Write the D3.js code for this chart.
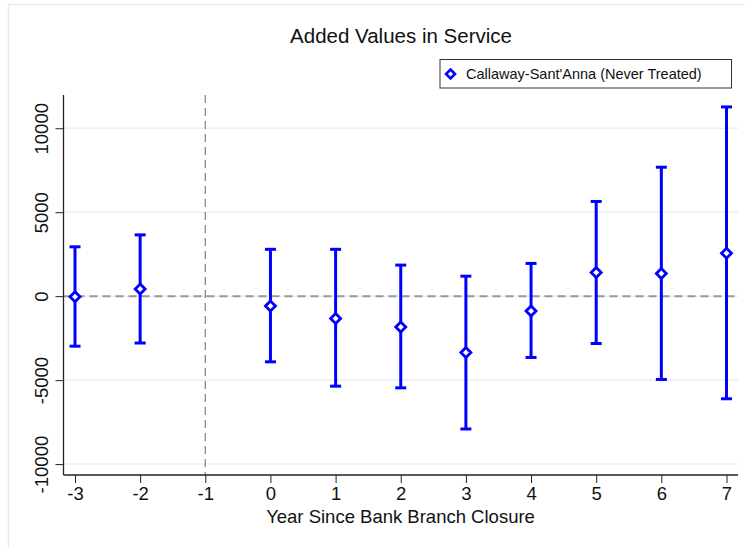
<!DOCTYPE html>
<html>
<head>
<meta charset="utf-8">
<script src="https://cdn.jsdelivr.net/npm/d3@7"></script>
<style>
  html, body { margin: 0; padding: 0; background: #fff; }
  svg { display: block; font-family: "Liberation Sans", Arial, Helvetica, sans-serif; }
</style>
</head>
<body>
<svg id="chart" width="745" height="548"></svg>
<script>
// ---- Data ----
const years = [-3, -2, 0, 1, 2, 3, 4, 5, 6, 7];
const estimates = [-30, 420, -580, -1330, -1830, -3360, -880, 1410, 1350, 2560];
const ciLower = [-2980, -2790, -3910, -5360, -5460, -7910, -3650, -2820, -4960, -6110];
const ciUpper = [2940, 3650, 2790, 2790, 1850, 1190, 1950, 5640, 7680, 11270];
const xTicks = [-3, -2, -1, 0, 1, 2, 3, 4, 5, 6, 7];
const yTicks = [-10000, -5000, 0, 5000, 10000];
const titleText = "Added Values in Service";
const xTitle = "Year Since Bank Branch Closure";
const legendLabel = "Callaway-Sant'Anna (Never Treated)";

const svg = d3.select("#chart");
const W = 745, H = 548;

// outer graph region outline
svg.append("rect").attr("x", 8.5).attr("y", 4.5).attr("width", W + 10).attr("height", H + 10)
  .attr("fill", "#fff").attr("stroke", "#e4ecf0").attr("stroke-width", 1.5);

const plotLeft = 63.5, plotRight = 738, plotTop = 95, plotBottom = 475;

const x = d3.scaleLinear().domain([-3, 7]).range([75, 726.5]);
const y = d3.scaleLinear().domain([-10650, 11980]).range([plotBottom, plotTop]);

const fmt = d => String(d);

// gridlines
svg.append("g").selectAll("line").data(yTicks).join("line")
  .attr("x1", plotLeft).attr("x2", plotRight)
  .attr("y1", d => y(d)).attr("y2", d => y(d))
  .attr("stroke", "#e8f0f3").attr("stroke-width", 1.5);

// zero reference line
svg.append("line")
  .attr("x1", plotLeft).attr("x2", plotRight)
  .attr("y1", y(0)).attr("y2", y(0))
  .attr("stroke", "#999").attr("stroke-width", 2).attr("stroke-dasharray", "8,5");

// vertical reference at -1
svg.append("line")
  .attr("x1", x(-1)).attr("x2", x(-1))
  .attr("y1", plotTop).attr("y2", plotBottom)
  .attr("stroke", "#888").attr("stroke-width", 1.3).attr("stroke-dasharray", "8,5");

// axes
const yAxis = d3.axisLeft(y).tickValues(yTicks).tickSize(8).tickPadding(6).tickFormat(fmt);
const gy = svg.append("g").attr("transform", `translate(${plotLeft},0)`).call(yAxis);
gy.select(".domain").attr("d", `M0,${plotTop}V${plotBottom}`).attr("stroke", "#222").attr("stroke-width", 1.3);
gy.selectAll(".tick line").attr("stroke", "#222");
gy.selectAll(".tick text")
  .attr("transform", "rotate(-90)")
  .attr("x", 0).attr("y", -16)
  .attr("dy", "0")
  .attr("text-anchor", "middle")
  .attr("font-size", 18.5).attr("fill", "#111")
  .attr("font-family", "'Liberation Sans', Arial, sans-serif");

const xAxis = d3.axisBottom(x).tickValues(xTicks).tickSize(8).tickPadding(4).tickFormat(fmt);
const gx = svg.append("g").attr("transform", `translate(0,${plotBottom})`).call(xAxis);
gx.select(".domain").attr("d", `M${plotLeft},0H${plotRight}`).attr("stroke", "#222").attr("stroke-width", 1.3);
gx.selectAll(".tick line").attr("stroke", "#222");
gx.selectAll(".tick text").attr("font-size", 18.5).attr("fill", "#111")
  .attr("font-family", "'Liberation Sans', Arial, sans-serif");

// error bars
const blue = "#0000ff";
const idx = d3.range(years.length);
const bars = svg.append("g");
bars.selectAll("line.ci").data(idx).join("line").attr("class", "ci")
  .attr("x1", i => x(years[i])).attr("x2", i => x(years[i]))
  .attr("y1", i => y(ciLower[i])).attr("y2", i => y(ciUpper[i]))
  .attr("stroke", blue).attr("stroke-width", 3);
bars.selectAll("line.capT").data(idx).join("line").attr("class", "capT")
  .attr("x1", i => x(years[i]) - 5.5).attr("x2", i => x(years[i]) + 5.5)
  .attr("y1", i => y(ciUpper[i])).attr("y2", i => y(ciUpper[i]))
  .attr("stroke", blue).attr("stroke-width", 3);
bars.selectAll("line.capB").data(idx).join("line").attr("class", "capB")
  .attr("x1", i => x(years[i]) - 5.5).attr("x2", i => x(years[i]) + 5.5)
  .attr("y1", i => y(ciLower[i])).attr("y2", i => y(ciLower[i]))
  .attr("stroke", blue).attr("stroke-width", 3);

// diamond markers
const diamond = (cx, cy, r) => `M${cx},${cy - r}L${cx + r},${cy}L${cx},${cy + r}L${cx - r},${cy}Z`;
bars.selectAll("path.pt").data(idx).join("path").attr("class", "pt")
  .attr("d", i => diamond(x(years[i]), y(estimates[i]), 5))
  .attr("fill", "#fff").attr("stroke", blue).attr("stroke-width", 2.8);

// title
svg.append("text").attr("x", 401).attr("y", 43).attr("text-anchor", "middle")
  .attr("font-size", 20.5).attr("fill", "#111").text(titleText);

// x title
svg.append("text").attr("x", 400.5).attr("y", 523).attr("text-anchor", "middle")
  .attr("font-size", 18.5).attr("fill", "#111").text(xTitle);

// legend
const lg = svg.append("g");
lg.append("rect").attr("x", 440).attr("y", 59.5).attr("width", 291.5).attr("height", 28.5)
  .attr("fill", "#fff").attr("stroke", "#333").attr("stroke-width", 1);
lg.append("path").attr("d", diamond(450.5, 74, 4.5))
  .attr("fill", "#fff").attr("stroke", blue).attr("stroke-width", 2.6);
lg.append("text").attr("x", 466).attr("y", 79).attr("font-size", 14.5).attr("fill", "#111").text(legendLabel);
</script>
</body>
</html>
